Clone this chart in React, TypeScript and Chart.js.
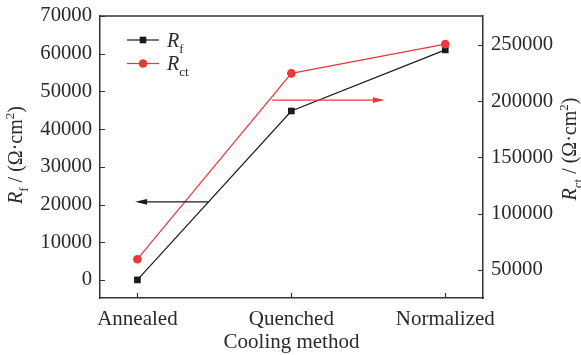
import React, { useEffect, useRef } from "react";
import { Chart, registerables } from "chart.js";

Chart.register(...registerables);

const categories = ["Annealed", "Quenched", "Normalized"];
const categoryPositions = [0, 1, 2];
const rfValues = [0, 44800, 61000];
const rctValues = [59500, 224800, 250800];
const leftTickValues = [0, 10000, 20000, 30000, 40000, 50000, 60000, 70000];
const rightTickValues = [50000, 100000, 150000, 200000, 250000];
const leftRange = [-4800, 70000];
const rightRange = [25000, 275800];
const xRange = [-0.243, 2.245];
const rfArrowX = [0.46, -0.015];
const rfArrowY = 20700;
const rctArrowX = [0.875, 1.607];
const rctArrowY = 201000;

const FONT = '"Liberation Serif", "Times New Roman", serif';
const TEXT = "#2a2a2a";
const AXIS = "#333333";
const BLACK = "#1a1a1a";
const RED = "#e8383a";

type Part = { t: string; italic?: boolean; sub?: boolean; sup?: boolean };

function drawRich(ctx: CanvasRenderingContext2D, parts: Part[], size: number, align: "center" | "left") {
  const small = Math.round(size * 0.65);
  const fonts = parts.map(
    (p) => `${p.italic ? "italic " : ""}${p.sub || p.sup ? small : size}px ${FONT}`
  );
  const widths = parts.map((p, i) => {
    ctx.font = fonts[i];
    return ctx.measureText(p.t).width;
  });
  const total = widths.reduce((a, b) => a + b, 0);
  let x = align === "center" ? -total / 2 : 0;
  ctx.textAlign = "left";
  ctx.textBaseline = "alphabetic";
  parts.forEach((p, i) => {
    ctx.font = fonts[i];
    const dy = p.sub ? size * 0.3 : p.sup ? -size * 0.38 : 0;
    ctx.fillText(p.t, x, dy);
    x += widths[i];
  });
}

const rfTitle: Part[] = [
  { t: "R", italic: true },
  { t: "f", sub: true },
  { t: " / (Ω·cm" },
  { t: "2", sup: true },
  { t: ")" },
];
const rctTitle: Part[] = [
  { t: "R", italic: true },
  { t: "ct", sub: true },
  { t: " / (Ω·cm" },
  { t: "2", sup: true },
  { t: ")" },
];

function drawArrow(ctx: CanvasRenderingContext2D, x0: number, x1: number, y: number, color: string) {
  const dir = Math.sign(x1 - x0);
  const head = 12;
  ctx.save();
  ctx.strokeStyle = color;
  ctx.fillStyle = color;
  ctx.lineWidth = 1.2;
  ctx.beginPath();
  ctx.moveTo(x0, y);
  ctx.lineTo(x1 - dir * head * 0.5, y);
  ctx.stroke();
  ctx.beginPath();
  ctx.moveTo(x1, y);
  ctx.lineTo(x1 - dir * head, y - 2.8);
  ctx.lineTo(x1 - dir * head, y + 2.8);
  ctx.closePath();
  ctx.fill();
  ctx.restore();
}

const decorPlugin = {
  id: "decor",
  afterDraw(chart: any) {
    const ctx: CanvasRenderingContext2D = chart.ctx;
    const { left, right, top, bottom } = chart.chartArea;
    const xs = chart.scales.x;
    const yl = chart.scales.yLeft;
    const yr = chart.scales.yRight;
    ctx.save();
    ctx.strokeStyle = AXIS;
    ctx.lineWidth = 1.5;
    ctx.beginPath();
    ctx.moveTo(left, top);
    ctx.lineTo(right, top);
    ctx.stroke();
    ctx.lineWidth = 1.2;
    const tl = 5;
    ctx.beginPath();
    yl.ticks.forEach((t: any) => {
      const y = Math.round(yl.getPixelForValue(t.value)) + 0.5;
      ctx.moveTo(left, y);
      ctx.lineTo(left + tl, y);
    });
    yr.ticks.forEach((t: any) => {
      const y = Math.round(yr.getPixelForValue(t.value)) + 0.5;
      ctx.moveTo(right, y);
      ctx.lineTo(right - tl, y);
    });
    xs.ticks.forEach((t: any) => {
      const x = Math.round(xs.getPixelForValue(t.value)) + 0.5;
      ctx.moveTo(x, bottom);
      ctx.lineTo(x, bottom - tl);
    });
    ctx.stroke();

    drawArrow(
      ctx,
      xs.getPixelForValue(rfArrowX[0]),
      xs.getPixelForValue(rfArrowX[1]),
      yl.getPixelForValue(rfArrowY),
      BLACK
    );
    drawArrow(
      ctx,
      xs.getPixelForValue(rctArrowX[0]),
      xs.getPixelForValue(rctArrowX[1]),
      yr.getPixelForValue(rctArrowY),
      RED
    );

    const lx0 = left + 27;
    const lx1 = left + 59;
    const lmx = (lx0 + lx1) / 2;
    const rows = [
      { y: top + 24, color: BLACK, parts: [{ t: "R", italic: true }, { t: "f", sub: true }] as Part[], square: true },
      { y: top + 47.5, color: RED, parts: [{ t: "R", italic: true }, { t: "ct", sub: true }] as Part[], square: false },
    ];
    rows.forEach((r) => {
      ctx.strokeStyle = r.color;
      ctx.fillStyle = r.color;
      ctx.lineWidth = 1.2;
      ctx.beginPath();
      ctx.moveTo(lx0, r.y);
      ctx.lineTo(lx1, r.y);
      ctx.stroke();
      ctx.beginPath();
      if (r.square) {
        ctx.rect(lmx - 3.3, r.y - 3.3, 6.6, 6.6);
      } else {
        ctx.arc(lmx, r.y, 4.3, 0, Math.PI * 2);
      }
      ctx.fill();
      ctx.save();
      ctx.fillStyle = TEXT;
      ctx.translate(left + 67, r.y + 6.8);
      drawRich(ctx, r.parts, 20, "left");
      ctx.restore();
    });

    ctx.fillStyle = TEXT;
    const cy = (top + bottom) / 2;
    ctx.save();
    ctx.translate(left - 78, cy - 2);
    ctx.rotate(-Math.PI / 2);
    drawRich(ctx, rfTitle, 20, "center");
    ctx.restore();
    ctx.save();
    ctx.translate(right + 93, cy - 8);
    ctx.rotate(-Math.PI / 2);
    drawRich(ctx, rctTitle, 20, "center");
    ctx.restore();
    ctx.save();
    ctx.translate((left + right) / 2, bottom + 50);
    drawRich(ctx, [{ t: "Cooling method" }], 21, "center");
    ctx.restore();
    ctx.restore();
  },
};

function noPad(s: any) {
  s.paddingTop = 0;
  s.paddingBottom = 0;
  s.paddingLeft = 0;
  s.paddingRight = 0;
}

export default function App() {
  const ref = useRef<HTMLCanvasElement | null>(null);
  useEffect(() => {
    if (!ref.current) return;
    const yFont = { family: FONT, size: 20.7 };
    const xFont = { family: FONT, size: 21 };
    const chart = new Chart(ref.current, {
      type: "line",
      data: {
        datasets: [
          {
            label: "Rct",
            data: categoryPositions.map((x, i) => ({ x, y: rctValues[i] })),
            yAxisID: "yRight",
            borderColor: RED,
            backgroundColor: RED,
            borderWidth: 1.2,
            pointStyle: "circle",
            pointRadius: 4.3,
            pointBorderWidth: 0,
            order: 1,
          },
          {
            label: "Rf",
            data: categoryPositions.map((x, i) => ({ x, y: rfValues[i] })),
            yAxisID: "yLeft",
            borderColor: BLACK,
            backgroundColor: BLACK,
            borderWidth: 1.2,
            pointStyle: "rect",
            pointRadius: 4.7,
            pointBorderWidth: 0,
            order: 2,
          },
        ],
      },
      options: {
        responsive: false,
        animation: false,
        devicePixelRatio: 1,
        layout: { padding: { top: 16, left: 0, right: 0, bottom: 0 } },
        plugins: { legend: { display: false }, tooltip: { enabled: false } },
        scales: {
          x: {
            type: "linear",
            position: "bottom",
            min: xRange[0],
            max: xRange[1],
            afterBuildTicks: (s: any) => {
              s.ticks = categoryPositions.map((v) => ({ value: v }));
            },
            afterFit: (s: any) => {
              s.height = 57;
              noPad(s);
            },
            grid: { display: false, drawTicks: false },
            border: { display: true, color: AXIS, width: 1.5 },
            ticks: {
              font: xFont,
              color: TEXT,
              padding: 9,
              autoSkip: false,
              maxRotation: 0,
              callback: (v: any) => categories[Math.round(Number(v))] ?? "",
            },
          },
          yLeft: {
            type: "linear",
            position: "left",
            min: leftRange[0],
            max: leftRange[1],
            afterBuildTicks: (s: any) => {
              s.ticks = leftTickValues.map((v) => ({ value: v }));
            },
            afterFit: (s: any) => {
              s.width = 100;
              noPad(s);
            },
            grid: { display: false, drawTicks: false },
            border: { display: true, color: AXIS, width: 1.5 },
            ticks: {
              font: yFont,
              color: TEXT,
              padding: 8,
              callback: (v: any) => String(v),
            },
          },
          yRight: {
            type: "linear",
            position: "right",
            min: rightRange[0],
            max: rightRange[1],
            afterBuildTicks: (s: any) => {
              s.ticks = rightTickValues.map((v) => ({ value: v }));
            },
            afterFit: (s: any) => {
              s.width = 98;
              noPad(s);
            },
            grid: { display: false, drawTicks: false },
            border: { display: true, color: AXIS, width: 1.5 },
            ticks: {
              font: yFont,
              color: TEXT,
              padding: 8,
              callback: (v: any) => String(v),
            },
          },
        },
      } as any,
      plugins: [decorPlugin],
    });
    return () => chart.destroy();
  }, []);
  return (
    <div style={{ position: "absolute", left: 0, top: 0, width: 581, height: 355 }}>
      <canvas ref={ref} width={581} height={355} style={{ display: "block", width: 581, height: 355 }} />
    </div>
  );
}
